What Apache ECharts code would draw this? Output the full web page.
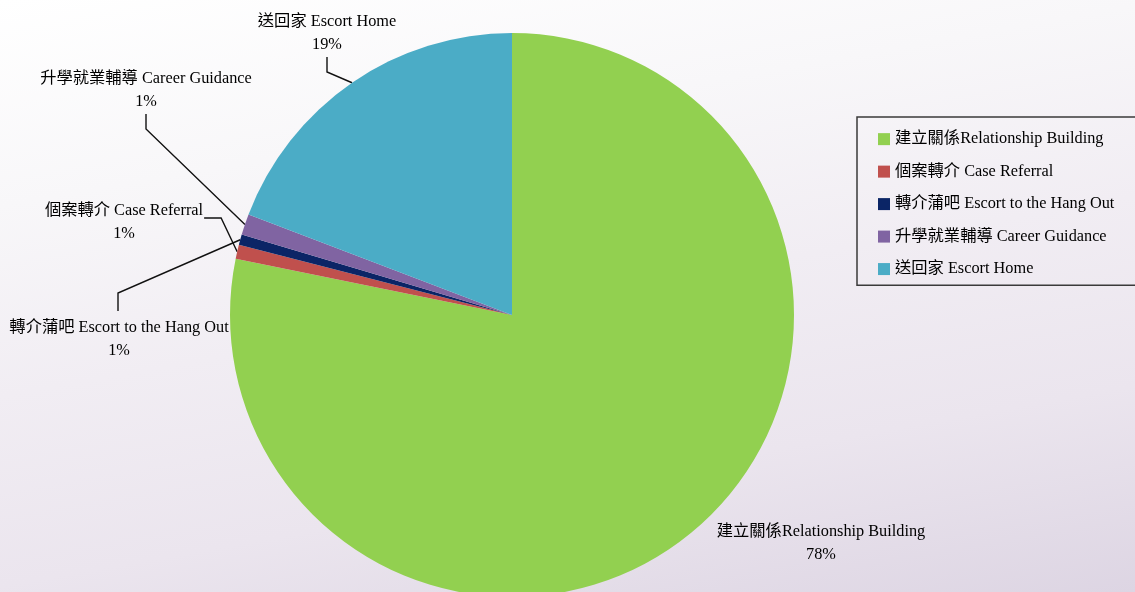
<!DOCTYPE html>
<html>
<head>
<meta charset="utf-8">
<title>服務類別分佈</title>
<script src="https://cdn.jsdelivr.net/npm/echarts@6/dist/echarts.min.js"></script>
<style>
  html, body { margin: 0; padding: 0; width: 100%; height: 100%; overflow: hidden; }
  body { background: linear-gradient(170deg, #ffffff 0%, #f8f7f9 26%, #f1edf3 50%, #ebe5ee 74%, #ddd5e3 100%); }
  #chart { width: 1135px; height: 592px; }
</style>
</head>
<body>
<div id="chart"></div>
<script>
// Service categories and their share of contacts (%)
const categories = [
  '建立關係Relationship Building',
  '個案轉介 Case Referral',
  '轉介蒲吧 Escort to the Hang Out',
  '升學就業輔導 Career Guidance',
  '送回家 Escort Home'
];
const shares = [78.2, 0.8, 0.6, 1.2, 19.2];
const sliceColors = ['#92D050', '#C0504D', '#0B2566', '#8064A2', '#4BACC6'];

const FONT = '"Liberation Serif", "Times New Roman", "Noto Sans CJK TC", serif';
const FONT_SIZE = 16.3;
const LINE_H = 23;

// Where each outside label sits and which side its leader line meets
const labelSpots = [
  { x: 821, y: 543, lead: 'none' },
  { x: 124, y: 222, lead: 'right' },
  { x: 119, y: 339, lead: 'top' },
  { x: 146, y: 90, lead: 'bottom' },
  { x: 327, y: 33, lead: 'bottom' }
];

const measure = document.createElement('canvas').getContext('2d');
measure.font = FONT_SIZE + 'px ' + FONT;

function leaderPoints(i, edge) {
  const s = labelSpots[i];
  if (s.lead === 'bottom') {
    const yEnd = s.y + LINE_H + 1;
    return [edge, [s.x, yEnd + 15], [s.x, yEnd]];
  }
  if (s.lead === 'top') {
    const yEnd = s.y - LINE_H - 5;
    return [edge, [s.x - 1, yEnd - 18], [s.x - 1, yEnd]];
  }
  if (s.lead === 'right') {
    const xEnd = s.x + measure.measureText(categories[i]).width / 2 + 1;
    const y = s.y - 4;
    return [edge, [xEnd + 17, y], [xEnd, y]];
  }
  return null;
}

const chart = echarts.init(document.getElementById('chart'), null, { renderer: 'canvas' });

chart.setOption({
  backgroundColor: 'transparent',
  animation: false,
  color: sliceColors,
  legend: {
    orient: 'vertical',
    left: 857,
    top: 117,
    data: categories,
    icon: 'rect',
    itemWidth: 12,
    itemHeight: 12,
    itemGap: 16.2,
    padding: [14, 60, 8, 21],
    borderColor: '#3a3a3a',
    borderWidth: 1.5,
    backgroundColor: 'transparent',
    selectedMode: false,
    textStyle: { fontFamily: FONT, fontSize: FONT_SIZE, color: '#000' }
  },
  series: [{
    type: 'pie',
    center: [512, 315],
    radius: 282,
    startAngle: 90,
    clockwise: true,
    percentPrecision: 0,
    avoidLabelOverlap: false,
    itemStyle: { borderWidth: 0 },
    emphasis: { disabled: true },
    label: {
      show: true,
      position: 'outer',
      formatter: '{b}\n{d}%',
      fontFamily: FONT,
      fontSize: FONT_SIZE,
      lineHeight: LINE_H,
      color: '#000',
      align: 'center',
      width: 260,
      overflow: 'none'
    },
    labelLine: {
      show: true,
      length: 12,
      length2: 12,
      lineStyle: { color: '#111', width: 1.4 }
    },
    labelLayout: function (params) {
      const i = params.dataIndex;
      const s = labelSpots[i];
      const out = { x: s.x, y: s.y, align: 'center', verticalAlign: 'middle' };
      if (params.labelLinePoints && s.lead !== 'none') {
        out.labelLinePoints = leaderPoints(i, params.labelLinePoints[0]);
      }
      return out;
    },
    data: categories.map(function (name, i) {
      const item = { name: name, value: shares[i] };
      if (labelSpots[i].lead === 'none') item.labelLine = { show: false };
      return item;
    })
  }]
});
</script>
</body>
</html>
